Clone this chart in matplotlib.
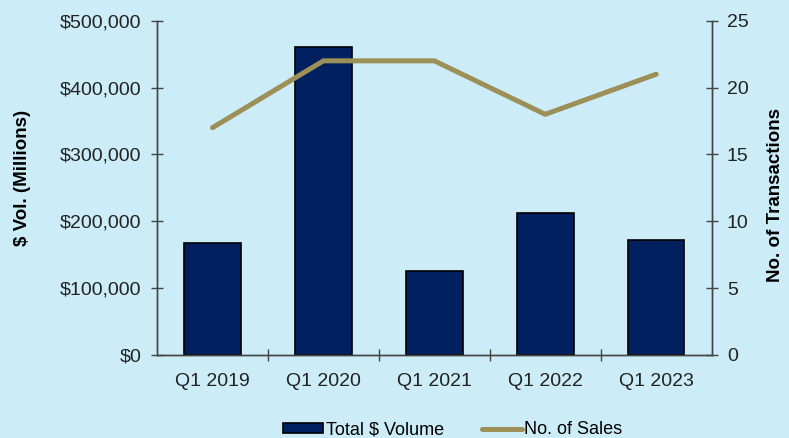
import matplotlib.pyplot as plt
import matplotlib.ticker as mticker

plt.rcParams['font.family'] = ['Liberation Sans', 'DejaVu Sans']

quarters = ["Q1 2019", "Q1 2020", "Q1 2021", "Q1 2022", "Q1 2023"]
volume = [167000, 460000, 126000, 213000, 172000]
sales = [17, 22, 22, 18, 21]

bg = "#CCEDF7"
bar_color = "#002060"
line_color = "#9C8F58"

fig = plt.figure(figsize=(7.89, 4.38), dpi=100, facecolor=bg)
ax = fig.add_axes([0.199, 0.1895, 0.703, 0.7632])
ax.set_facecolor(bg)

x = range(len(quarters))
ax.bar(x, volume, width=0.51, color=bar_color, edgecolor="black",
       linewidth=1.2, label="Total $ Volume", zorder=2)
ax.set_xlim(-0.5, len(quarters) - 0.5)
ax.set_ylim(0, 500000)
ax.yaxis.set_major_locator(mticker.MultipleLocator(100000))
ax.yaxis.set_major_formatter(mticker.FuncFormatter(lambda v, p: "${:,.0f}".format(v)))
ax.set_xticks(x)
ax.set_xticklabels(quarters)
ax.set_xticks([i + 0.5 for i in range(len(quarters) - 1)], minor=True)
ax.tick_params(axis="x", which="major", length=0, labelsize=14, pad=13, colors="#222222")
ax.tick_params(axis="x", which="minor", direction="inout", length=8, width=1, color="#444444")
ax.tick_params(axis="y", direction="inout", length=8, width=1, labelsize=14,
               color="#444444", labelcolor="#222222", pad=7)
ax.set_ylabel("$ Vol. (Millions)", fontsize=13.5, fontweight="bold")
ax.yaxis.set_label_coords(-0.227, 0.53)

ax2 = ax.twinx()
ax2.plot(x, sales, color=line_color, linewidth=3.6, label="No. of Sales",
         solid_capstyle="round", zorder=3)
ax2.set_ylim(0, 25)
ax2.yaxis.set_major_locator(mticker.MultipleLocator(5))
ax2.tick_params(axis="y", direction="inout", length=8, width=1, labelsize=14,
                color="#444444", labelcolor="#222222", pad=7)
ax2.set_ylabel("No. of Transactions", fontsize=13.5, fontweight="bold")
ax2.yaxis.set_label_coords(1.10, 0.48)

for a in (ax, ax2):
    a.spines["top"].set_visible(False)
    for s in ("left", "right", "bottom"):
        a.spines[s].set_color("#444444")
        a.spines[s].set_linewidth(1)

h1, l1 = ax.get_legend_handles_labels()
h2, l2 = ax2.get_legend_handles_labels()
fig.legend(h1 + h2, l1 + l2, loc="center", bbox_to_anchor=(0.574, 1 - 430 / 438),
           ncol=2, frameon=False, fontsize=13, handlelength=2.2, handleheight=0.5,
           handletextpad=0.15, columnspacing=2.1, borderpad=0)

fig.savefig("out.png", dpi=100, facecolor=bg)
